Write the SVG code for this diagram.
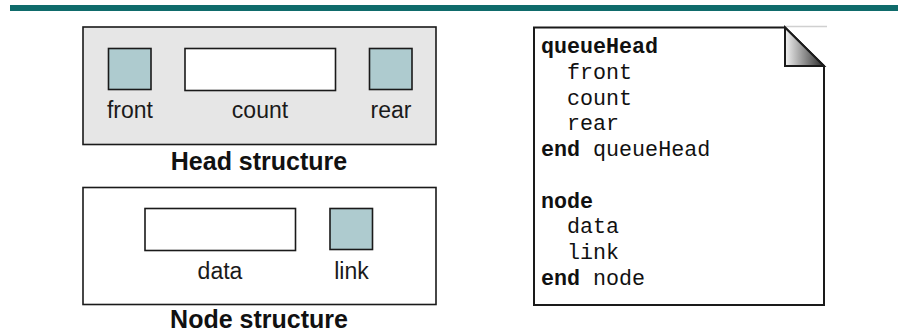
<svg xmlns="http://www.w3.org/2000/svg" width="903" height="332" viewBox="0 0 903 332">
<defs>
<linearGradient id="fold" x1="0" y1="0" x2="1" y2="0">
<stop offset="0" stop-color="#f2f2f2"/>
<stop offset="1" stop-color="#2a2a2a"/>
</linearGradient>
</defs>
<style>
.box{stroke:#1a1a1a;stroke-width:1.6}
.field{fill:#ffffff;stroke:#1a1a1a;stroke-width:1.6}
.ptr{fill:#aecbcf;stroke:#1a1a1a;stroke-width:1.6}
.lbl{font-family:"Liberation Sans",Arial,sans-serif;font-size:23px;fill:#1a1a1a;text-anchor:middle}
.title{font-family:"Liberation Sans",Arial,sans-serif;font-size:25px;font-weight:bold;fill:#111;text-anchor:middle}
.code{font-family:"Liberation Mono","Courier New",monospace;font-size:21.7px;fill:#111}
.kw{font-weight:bold}
</style>
<rect x="10" y="5" width="888" height="6" fill="#0f6b6b"/>
<g id="head">
<rect class="box" x="83" y="27" width="353" height="117.5" fill="#e6e6e6"/>
<rect class="ptr" x="108.5" y="48.5" width="42.5" height="41"/>
<rect class="field" x="185" y="48.5" width="150.5" height="42"/>
<rect class="ptr" x="369.5" y="48.5" width="42.5" height="41"/>
<text class="lbl" x="130" y="118">front</text>
<text class="lbl" x="260" y="118">count</text>
<text class="lbl" x="391" y="118">rear</text>
<text class="title" x="259" y="170">Head structure</text>
</g>
<g id="node">
<rect class="box" x="83" y="187.5" width="353" height="117" fill="#ffffff"/>
<rect class="field" x="145" y="208.5" width="150.5" height="42"/>
<rect class="ptr" x="330" y="208.5" width="42.5" height="41"/>
<text class="lbl" x="220" y="279">data</text>
<text class="lbl" x="351.5" y="279">link</text>
<text class="title" x="259" y="328">Node structure</text>
</g>
<g id="code">
<line x1="785" y1="26.5" x2="827" y2="26.5" stroke="#d0d0d0" stroke-width="1.5"/>
<path d="M534,27.5 H785 L824,66 V305 H534 Z" fill="#ffffff" stroke="#1a1a1a" stroke-width="2"/>
<path d="M785,27.5 V66 H824 Z" fill="url(#fold)" stroke="#1a1a1a" stroke-width="2" stroke-linejoin="miter"/>
<text class="code" x="541" y="53.3"><tspan class="kw">queueHead</tspan></text>
<text class="code" x="541" y="79" xml:space="preserve">  front</text>
<text class="code" x="541" y="104.7" xml:space="preserve">  count</text>
<text class="code" x="541" y="130.4" xml:space="preserve">  rear</text>
<text class="code" x="541" y="156.1"><tspan class="kw">end</tspan> queueHead</text>
<text class="code" x="541" y="207.5"><tspan class="kw">node</tspan></text>
<text class="code" x="541" y="233.2" xml:space="preserve">  data</text>
<text class="code" x="541" y="258.9" xml:space="preserve">  link</text>
<text class="code" x="541" y="284.6"><tspan class="kw">end</tspan> node</text>
</g>
<g id="connectors"/>
</svg>
